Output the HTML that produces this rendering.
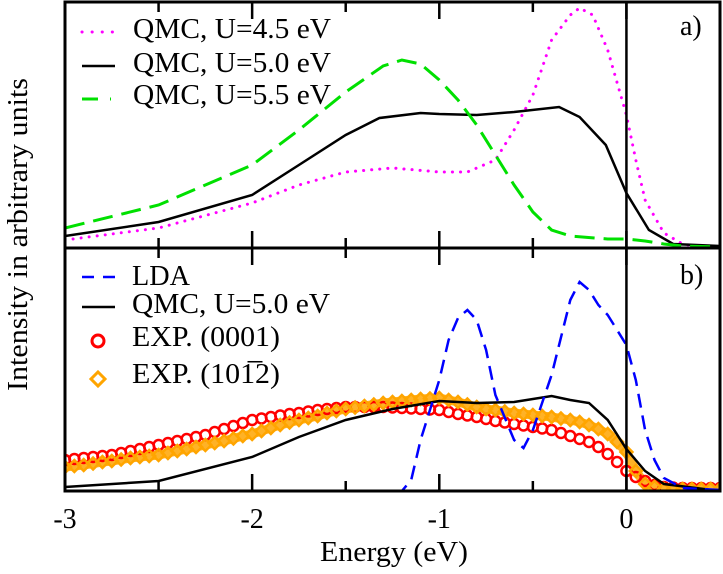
<!DOCTYPE html>
<html><head><meta charset="utf-8"><style>
body{margin:0;background:#fff}
svg{display:block;font-family:"Liberation Serif",serif}
</style></head><body>
<svg id="chart" width="723" height="574" viewBox="0 0 723 574" xmlns="http://www.w3.org/2000/svg">
<g id="plot"></g>
</svg>
<script>
const xTicks=[-3,-2,-1,0];
const xTickLabels=["-3","-2","-1","0"];
const minorTicks=[-2.5,-1.5,-0.5];
// top panel (a)
const qmc45E=[-3,-2.5,-2,-1.75,-1.5,-1.25,-1,-0.85,-0.7,-0.6,-0.5,-0.4,-0.3,-0.25,-0.18,-0.1,0,0.05,0.1,0.2,0.3,0.4,0.5];
const qmc45V=[8,20,45,63,76,80,76,76,88,118,153,208,233,240,233,198,133,88,48,15,4,1,0];
const qmc50aE=[-3,-2.5,-2,-1.75,-1.5,-1.32,-1.1,-1,-0.8,-0.6,-0.36,-0.25,-0.11,0,0.12,0.25,0.5];
const qmc50aV=[12,26,53,83,113,130,135,134,133,136,141,131,103,55,18,4,2];
const qmc55E=[-3,-2.5,-2,-1.75,-1.5,-1.3,-1.2,-1.1,-1,-0.9,-0.8,-0.7,-0.6,-0.5,-0.4,-0.3,-0.1,0,0.1,0.2,0.3,0.5];
const qmc55V=[20,43,83,118,156,182,188,184,168,148,123,93,63,36,18,12,9,9,7,4,2,1];
// bottom panel (b)
const ldaE=[-3,-1.2,-1.15,-1.1,-1,-0.95,-0.9,-0.85,-0.8,-0.75,-0.7,-0.6,-0.55,-0.5,-0.4,-0.3,-0.25,-0.2,-0.15,-0.1,-0.05,0,0.05,0.1,0.15,0.2,0.3,0.5];
const ldaV=[0,0,11,51,111,151,173,181,171,141,96,51,43,61,116,191,209,201,186,176,161,146,111,61,31,13,3,1];
const qmc50bE=[-3,-2.5,-2,-1.75,-1.5,-1.25,-1,-0.8,-0.6,-0.4,-0.3,-0.2,-0.1,0,0.1,0.2,0.5];
const qmc50bV=[4,10,34,54,71,82,90,88,89,95,91,88,71,42,20,7,0];
const exp0001V=[31,32,33,34,35,36,38,40,42,44,46,48,50,52,54,56,59,62,65,68,71,72.5,74,75.5,77,78,79.5,81,82,83,84,84,84,84,84,83.5,83,82.5,82,81.5,81,79,77,75.5,74,72,70,68.5,67,65.5,64,62.5,61,58,55,52,49,44,37,29,20,14,10,6,4,3.5,3,3,3,3,3];
const exp1012V=[24,25,26,27.5,29,30,31.5,33,34,35,36,38,40,42,44,46,48,50,52.5,55,57,60,63,66,68.5,71,73,75,78,80,82,83.5,85,86.5,88,89,90,91,92,92.5,93,91,89,86.5,84,82,81,79.5,78,77,76,75,74,72.5,71,69,66,62,57,49,39,20,7,4,2,2,2,2,2,2,2];
const expStart=-3, expStep=0.05;

const NS="http://www.w3.org/2000/svg";
const g=document.getElementById('plot');
const X0=65,X1=720,E0=-3,E1=0.5;
const TOP=[2,248],BOT=[248,491];
const xs=e=>X0+(e-E0)/(E1-E0)*(X1-X0);
const yTop=v=>TOP[1]-v;
const yBot=v=>BOT[1]-v;
function mk(tag,attrs,parent){const el=document.createElementNS(NS,tag);for(const k in attrs)el.setAttribute(k,attrs[k]);(parent||g).appendChild(el);return el;}
function pts(E,V,fy){return E.map((e,i)=>xs(e).toFixed(1)+','+fy(V[i]).toFixed(1)).join(' ');}

const defs=mk('defs',{});
const c1=mk('clipPath',{id:'ct'},defs);mk('rect',{x:X0,y:TOP[0],width:X1-X0,height:TOP[1]-TOP[0]},c1);
const c2=mk('clipPath',{id:'cb'},defs);mk('rect',{x:X0,y:BOT[0],width:X1-X0,height:BOT[1]-BOT[0]},c2);

const gt=mk('g',{'clip-path':'url(#ct)'});
let el;
el=mk('polyline',{points:pts(qmc45E,qmc45V,yTop),fill:'none',stroke:'#ff00ff','stroke-width':3,'stroke-dasharray':'0.1 8','stroke-linecap':'round'},gt);


el=mk('polyline',{points:pts(qmc50aE,qmc50aV,yTop),fill:'none',stroke:'#000','stroke-width':2.5},gt);


el=mk('polyline',{points:pts(qmc55E,qmc55V,yTop),fill:'none',stroke:'#00e000','stroke-width':3,'stroke-dasharray':'20 9'},gt);



const gb=mk('g',{'clip-path':'url(#cb)'});
const expE=exp0001V.map((_,i)=>expStart+i*expStep);
el=mk('polyline',{points:pts(expE,exp1012V,yBot),fill:'none',stroke:'#ffa500','stroke-width':9,opacity:0.85},gb);


exp0001V.forEach((v,i)=>{
  const c=mk('circle',{cx:xs(expE[i]),cy:yBot(v),r:5,fill:'none',stroke:'#ff0000','stroke-width':2.5},gb);
  
  
});
exp1012V.forEach((v,i)=>{
  const x=xs(expE[i]),y=yBot(v);
  const d=mk('polygon',{points:`${x},${y-6} ${x+6},${y} ${x},${y+6} ${x-6},${y}`,fill:'none',stroke:'#ffa500','stroke-width':2.5},gb);
  
  
});
el=mk('polyline',{points:pts(qmc50bE,qmc50bV,yBot),fill:'none',stroke:'#000','stroke-width':2.5},gb);


el=mk('polyline',{points:pts(ldaE,ldaV,yBot),fill:'none',stroke:'#0000ff','stroke-width':2.5,'stroke-dasharray':'14 8'},gb);



el=mk('rect',{x:X0,y:TOP[0],width:X1-X0,height:BOT[1]-TOP[0],fill:'none',stroke:'#000','stroke-width':3});


el=mk('line',{x1:X0,x2:X1,y1:TOP[1],y2:TOP[1],stroke:'#000','stroke-width':3});


el=mk('line',{x1:xs(0),x2:xs(0),y1:TOP[0],y2:BOT[1],stroke:'#000','stroke-width':2.5});



function tick(e,len){
  [[TOP[0],1],[TOP[1],-1],[TOP[1],1],[BOT[1],-1]].forEach(([y,dir])=>{
    const t=mk('line',{x1:xs(e),x2:xs(e),y1:y,y2:y+dir*len,stroke:'#000','stroke-width':2.5});
    
    
  });
}
xTicks.forEach(e=>tick(e,17));
minorTicks.forEach(e=>tick(e,10));
xTicks.forEach((e,i)=>{
  const t=mk('text',{x:xs(e),y:528,'font-size':28,'text-anchor':'middle'});
  t.textContent=xTickLabels[i];
  
  
});
</script>
<svg style="position:absolute;left:0;top:0" width="723" height="574" xmlns="http://www.w3.org/2000/svg" font-family="Liberation Serif, serif" font-size="28">
<text x="320" y="561" textLength="148" lengthAdjust="spacingAndGlyphs">Energy (eV)</text>
<text transform="translate(27,391) rotate(-90)" textLength="313" lengthAdjust="spacingAndGlyphs">Intensity in arbitrary units</text>
<text x="680" y="35">a)</text>
<text x="680" y="284">b)</text>
<g>
<line x1="82" x2="115" y1="32" y2="32" stroke="#ff00ff" stroke-width="3" stroke-dasharray="0.1 10" stroke-linecap="round"/>
<text x="133" y="38" textLength="198" lengthAdjust="spacingAndGlyphs">QMC, U=4.5 eV</text>
<line x1="82" x2="115" y1="66" y2="66" stroke="#000" stroke-width="2.5"/>
<text x="133" y="72" textLength="198" lengthAdjust="spacingAndGlyphs">QMC, U=5.0 eV</text>
<line x1="82" x2="115" y1="99" y2="99" stroke="#00e000" stroke-width="3" stroke-dasharray="16 12 1 20"/>
<text x="133" y="104" textLength="198" lengthAdjust="spacingAndGlyphs">QMC, U=5.5 eV</text>
</g>
<g>
<line x1="82" x2="115" y1="277" y2="277" stroke="#0000ff" stroke-width="2.5" stroke-dasharray="12 9"/>
<text x="132" y="285" textLength="58" lengthAdjust="spacingAndGlyphs">LDA</text>
<line x1="82" x2="115" y1="307" y2="307" stroke="#000" stroke-width="2.5"/>
<text x="132" y="313" textLength="198" lengthAdjust="spacingAndGlyphs">QMC, U=5.0 eV</text>
<circle cx="98" cy="341" r="6" fill="none" stroke="#ff0000" stroke-width="3"/>
<text x="132" y="346" textLength="148" lengthAdjust="spacingAndGlyphs">EXP. (0001)</text>
<polygon points="98,372 105,379 98,386 91,379" fill="none" stroke="#ffa500" stroke-width="3"/>
<text x="132" y="383" textLength="148" lengthAdjust="spacingAndGlyphs">EXP. (101̅2)</text>
</g>
</svg>
</body></html>
